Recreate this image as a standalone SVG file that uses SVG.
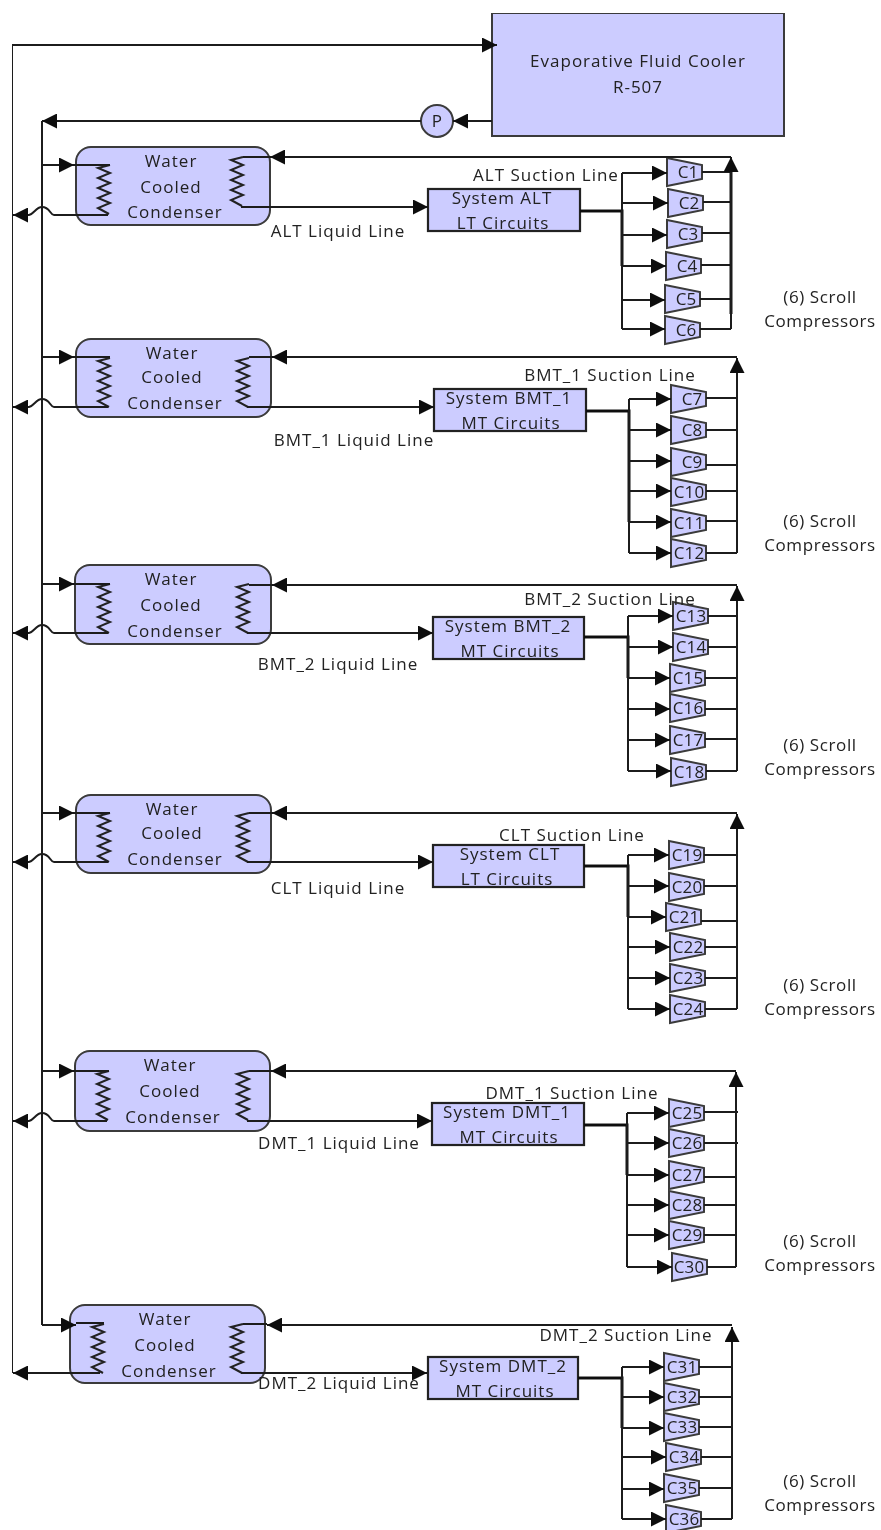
<svg xmlns="http://www.w3.org/2000/svg" width="881" height="1530" viewBox="0 0 881 1530">
<style>
text{font-family:"Open Sans","Noto Sans","DejaVu Sans",sans-serif;font-size:17px;fill:#222;text-anchor:middle;letter-spacing:1px}
text.s{letter-spacing:.6px}
text.c{letter-spacing:.1px}
.n{fill:#ccf;stroke:#3a3a3a;stroke-width:2}
.b{fill:#ccf;stroke:#222;stroke-width:2.2}
.coil{fill:none;stroke:#222;stroke-width:2}
.l{fill:none;stroke:#1c1c1c;stroke-width:2}
.t{fill:none;stroke:#111;stroke-width:3}
.a{marker-end:url(#ah)}
</style>
<defs>
<filter id="soft" x="0" y="0" width="1" height="1"><feGaussianBlur stdDeviation="0.55"/></filter>
<marker id="ah" markerUnits="userSpaceOnUse" viewBox="0 0 15 15" refX="15" refY="7.5" markerWidth="15" markerHeight="15" orient="auto"><path d="M0,0L15,7.5L0,15z" fill="#111"/></marker>
<path id="zig" d="M6,0L-6,3L6,8L-6,13L6,18L-6,23L6,28L-6,33L6,38L-6,43L5,49"/>
<polygon id="comp" points="0,-14 35,-7 35,7 0,14" class="n"/>
</defs>
<g filter="url(#soft)">
<g id="cooler"><rect x="492" y="13" width="292" height="123" class="n"/><text x="638" y="67">Evaporative Fluid Cooler</text><text x="638" y="93">R-507</text></g>
<g id="pump"><circle cx="437" cy="121" r="16" class="n"/><text x="437" y="127" class="c">P</text></g>

<g id="cond1"><rect x="76" y="147" width="194" height="78" rx="15" class="n"/><use href="#zig" x="104" y="165" class="coil"/><use href="#zig" x="237" y="157" class="coil"/><text x="171" y="167">Water</text><text x="171" y="193">Cooled</text><text x="175" y="218">Condenser</text></g>
<g id="cond2"><rect x="76" y="339" width="195" height="78" rx="15" class="n"/><use href="#zig" x="104" y="358" class="coil"/><use href="#zig" x="243" y="358" class="coil"/><text x="172" y="359">Water</text><text x="172" y="383">Cooled</text><text x="175" y="409">Condenser</text></g>
<g id="cond3"><rect x="75" y="565" width="196" height="79" rx="15" class="n"/><use href="#zig" x="104" y="584" class="coil"/><use href="#zig" x="243" y="584" class="coil"/><text x="171" y="585">Water</text><text x="171" y="611">Cooled</text><text x="175" y="637">Condenser</text></g>
<g id="cond4"><rect x="76" y="795" width="195" height="78" rx="15" class="n"/><use href="#zig" x="104" y="813" class="coil"/><use href="#zig" x="243" y="813" class="coil"/><text x="172" y="815">Water</text><text x="172" y="839">Cooled</text><text x="175" y="865">Condenser</text></g>
<g id="cond5"><rect x="75" y="1051" width="195" height="80" rx="15" class="n"/><use href="#zig" x="103" y="1071" class="coil"/><use href="#zig" x="243" y="1071" class="coil"/><text x="170" y="1071">Water</text><text x="170" y="1097">Cooled</text><text x="173" y="1123">Condenser</text></g>
<g id="cond6"><rect x="70" y="1305" width="195" height="78" rx="15" class="n"/><use href="#zig" x="98" y="1324" class="coil"/><use href="#zig" x="237" y="1324" class="coil"/><text x="165" y="1325">Water</text><text x="165" y="1351">Cooled</text><text x="169" y="1377">Condenser</text></g>

<g id="sys1"><rect x="428" y="189" width="152" height="42" class="b"/><text x="502" y="204">System ALT</text><text x="503" y="229">LT Circuits</text></g>
<g id="sys2"><rect x="434" y="389" width="152" height="42" class="b"/><text x="509" y="404">System BMT_1</text><text x="511" y="429">MT Circuits</text></g>
<g id="sys3"><rect x="433" y="617" width="151" height="42" class="b"/><text x="508" y="632">System BMT_2</text><text x="510" y="657">MT Circuits</text></g>
<g id="sys4"><rect x="433" y="845" width="151" height="42" class="b"/><text x="510" y="860">System CLT</text><text x="507" y="885">LT Circuits</text></g>
<g id="sys5"><rect x="432" y="1103" width="152" height="42" class="b"/><text x="507" y="1118">System DMT_1</text><text x="509" y="1143">MT Circuits</text></g>
<g id="sys6"><rect x="428" y="1357" width="150" height="42" class="b"/><text x="503" y="1372">System DMT_2</text><text x="505" y="1397">MT Circuits</text></g>

<g id="c1"><use href="#comp" x="667" y="172"/><text class="c" x="688" y="178">C1</text></g>
<g id="c2"><use href="#comp" x="668" y="203"/><text class="c" x="689" y="209">C2</text></g>
<g id="c3"><use href="#comp" x="667" y="234"/><text class="c" x="688" y="240">C3</text></g>
<g id="c4"><use href="#comp" x="666" y="266"/><text class="c" x="687" y="272">C4</text></g>
<g id="c5"><use href="#comp" x="665" y="299"/><text class="c" x="686" y="305">C5</text></g>
<g id="c6"><use href="#comp" x="665" y="330"/><text class="c" x="686" y="336">C6</text></g>
<g id="c7"><use href="#comp" x="671" y="399"/><text class="c" x="692" y="405">C7</text></g>
<g id="c8"><use href="#comp" x="671" y="430"/><text class="c" x="692" y="436">C8</text></g>
<g id="c9"><use href="#comp" x="671" y="462"/><text class="c" x="692" y="468">C9</text></g>
<g id="c10"><use href="#comp" x="671" y="492"/><text class="c" x="689" y="498">C10</text></g>
<g id="c11"><use href="#comp" x="671" y="523"/><text class="c" x="689" y="529">C11</text></g>
<g id="c12"><use href="#comp" x="671" y="553"/><text class="c" x="689" y="559">C12</text></g>
<g id="c13"><use href="#comp" x="673" y="616"/><text class="c" x="691" y="622">C13</text></g>
<g id="c14"><use href="#comp" x="673" y="647"/><text class="c" x="691" y="653">C14</text></g>
<g id="c15"><use href="#comp" x="670" y="678"/><text class="c" x="688" y="684">C15</text></g>
<g id="c16"><use href="#comp" x="670" y="708"/><text class="c" x="688" y="714">C16</text></g>
<g id="c17"><use href="#comp" x="670" y="740"/><text class="c" x="688" y="746">C17</text></g>
<g id="c18"><use href="#comp" x="671" y="772"/><text class="c" x="689" y="778">C18</text></g>
<g id="c19"><use href="#comp" x="669" y="855"/><text class="c" x="687" y="861">C19</text></g>
<g id="c20"><use href="#comp" x="669" y="887"/><text class="c" x="687" y="893">C20</text></g>
<g id="c21"><use href="#comp" x="666" y="917"/><text class="c" x="684" y="923">C21</text></g>
<g id="c22"><use href="#comp" x="670" y="947"/><text class="c" x="688" y="953">C22</text></g>
<g id="c23"><use href="#comp" x="670" y="978"/><text class="c" x="688" y="984">C23</text></g>
<g id="c24"><use href="#comp" x="670" y="1009"/><text class="c" x="688" y="1015">C24</text></g>
<g id="c25"><use href="#comp" x="669" y="1113"/><text class="c" x="687" y="1119">C25</text></g>
<g id="c26"><use href="#comp" x="669" y="1143"/><text class="c" x="687" y="1149">C26</text></g>
<g id="c27"><use href="#comp" x="669" y="1175"/><text class="c" x="687" y="1181">C27</text></g>
<g id="c28"><use href="#comp" x="669" y="1205"/><text class="c" x="687" y="1211">C28</text></g>
<g id="c29"><use href="#comp" x="669" y="1235"/><text class="c" x="687" y="1241">C29</text></g>
<g id="c30"><use href="#comp" x="672" y="1267"/><text class="c" x="689" y="1273">C30</text></g>
<g id="c31"><use href="#comp" x="664" y="1367"/><text class="c" x="682" y="1373">C31</text></g>
<g id="c32"><use href="#comp" x="664" y="1397"/><text class="c" x="682" y="1403">C32</text></g>
<g id="c33"><use href="#comp" x="664" y="1427"/><text class="c" x="682" y="1433">C33</text></g>
<g id="c34"><use href="#comp" x="666" y="1457"/><text class="c" x="684" y="1463">C34</text></g>
<g id="c35"><use href="#comp" x="664" y="1488"/><text class="c" x="682" y="1494">C35</text></g>
<g id="c36"><use href="#comp" x="666" y="1519"/><text class="c" x="684" y="1525">C36</text></g>

<g id="connectors">
<path class="l a" d="M12,1373V45H497"/>
<path class="l a" d="M492,121H453"/>
<path class="l a" d="M421,121H42"/>
<path class="l" d="M42,121V1325"/>

<path class="l a" d="M42,165H74"/><path class="l" d="M74,165H110"/>
<path class="l a" d="M108,215H54C50,215 50,207 42,207C36,207 34,214 29,215H13"/>
<path class="l a" d="M731,157H270"/><path class="l" d="M270,157H243"/>
<path class="l a" d="M241,207H428"/>
<path class="t" d="M580,211H622V266"/><path class="l" d="M622,329V173"/>
<path class="l a" d="M622,173H667"/><path class="l a" d="M622,203H668"/><path class="l a" d="M622,235H667"/><path class="l a" d="M622,266H666"/><path class="l a" d="M622,300H665"/><path class="l a" d="M622,329H665"/>
<path class="l" d="M702,172H731M703,202H731M702,233H731M701,265H731M700,299H731M700,329H731"/>
<path class="t" d="M731,314V172"/><path class="l a" d="M731,329V157"/>

<path class="l a" d="M42,357H74"/><path class="l" d="M74,357H110"/>
<path class="l a" d="M108,407H54C50,407 50,399 42,399C36,399 34,406 29,407H13"/>
<path class="l a" d="M737,357H272"/><path class="l" d="M272,357H249"/>
<path class="l a" d="M247,407H434"/>
<path class="t" d="M586,411H629V522"/><path class="l" d="M629,553V399"/>
<path class="l a" d="M629,399H671"/><path class="l a" d="M629,430H671"/><path class="l a" d="M629,461H671"/><path class="l a" d="M629,491H671"/><path class="l a" d="M629,522H671"/><path class="l a" d="M629,553H671"/>
<path class="l" d="M706,398H737M706,430H737M706,465H737M706,491H737M706,521H737M706,553H737"/>
<path class="l a" d="M737,553V358"/>

<path class="l a" d="M42,584H74"/><path class="l" d="M74,584H110"/>
<path class="l a" d="M108,633H54C50,633 50,625 42,625C36,625 34,632 29,633H13"/>
<path class="l a" d="M737,585H272"/><path class="l" d="M272,585H249"/>
<path class="l a" d="M247,633H433"/>
<path class="t" d="M584,637H628V678"/><path class="l" d="M628,771V616"/>
<path class="l a" d="M628,616H673"/><path class="l a" d="M628,647H673"/><path class="l a" d="M628,678H670"/><path class="l a" d="M628,709H670"/><path class="l a" d="M628,740H670"/><path class="l a" d="M628,771H671"/>
<path class="l" d="M708,616H737M708,647H737M705,678H737M705,709H737M705,739H737M706,771H737"/>
<path class="l a" d="M737,771V586"/>

<path class="l a" d="M42,813H74"/><path class="l" d="M74,813H110"/>
<path class="l a" d="M108,862H54C50,862 50,854 42,854C36,854 34,861 29,862H13"/>
<path class="l a" d="M737,813H272"/><path class="l" d="M272,813H249"/>
<path class="l a" d="M247,862H433"/>
<path class="t" d="M584,866H628V917"/><path class="l" d="M628,1009V855"/>
<path class="l a" d="M628,855H669"/><path class="l a" d="M628,886H669"/><path class="l a" d="M628,917H666"/><path class="l a" d="M628,947H670"/><path class="l a" d="M628,978H670"/><path class="l a" d="M628,1009H670"/>
<path class="l" d="M704,855H737M704,886H737M701,921H737M705,947H737M705,978H737M705,1009H737"/>
<path class="l a" d="M737,1009V814"/>

<path class="l a" d="M42,1071H74"/><path class="l" d="M74,1071H109"/>
<path class="l a" d="M107,1121H54C50,1121 50,1113 42,1113C36,1113 34,1120 29,1121H13"/>
<path class="l a" d="M736,1071H271"/><path class="l" d="M271,1071H249"/>
<path class="l a" d="M247,1121H432"/>
<path class="t" d="M584,1125H627V1175"/><path class="l" d="M627,1267V1113"/>
<path class="l a" d="M627,1113H669"/><path class="l a" d="M627,1143H669"/><path class="l a" d="M627,1175H669"/><path class="l a" d="M627,1205H669"/><path class="l a" d="M627,1235H669"/><path class="l a" d="M627,1267H672"/>
<path class="l" d="M704,1112H738M704,1143H738M704,1177H736M704,1205H736M704,1235H736M707,1267H736"/>
<path class="l a" d="M736,1267V1072"/>

<path class="l a" d="M42,1325H76"/><path class="l" d="M76,1323H104"/>
<path class="l a" d="M100,1373H13"/>
<path class="l a" d="M732,1325H267"/><path class="l" d="M267,1324H243"/>
<path class="l a" d="M241,1373H427"/>
<path class="t" d="M578,1378H622V1428"/><path class="l" d="M622,1519V1367"/>
<path class="l a" d="M622,1367H664"/><path class="l a" d="M622,1397H664"/><path class="l a" d="M622,1428H664"/><path class="l a" d="M622,1457H666"/><path class="l a" d="M622,1489H664"/><path class="l a" d="M622,1519H666"/>
<path class="l" d="M699,1367H732M699,1397H732M699,1427H732M701,1457H732M699,1488H732M701,1519H732"/>
<path class="l a" d="M732,1519V1327"/>
</g>

<g id="labels">
<text x="546" y="181">ALT Suction Line</text><text x="338" y="237">ALT Liquid Line</text>
<text x="610" y="381">BMT_1 Suction Line</text><text x="354" y="446">BMT_1 Liquid Line</text>
<text x="610" y="605">BMT_2 Suction Line</text><text x="338" y="670">BMT_2 Liquid Line</text>
<text x="572" y="841">CLT Suction Line</text><text x="338" y="894">CLT Liquid Line</text>
<text x="572" y="1099">DMT_1 Suction Line</text><text x="339" y="1149">DMT_1 Liquid Line</text>
<text x="626" y="1341">DMT_2 Suction Line</text><text x="339" y="1389">DMT_2 Liquid Line</text>
<text class="s" x="820" y="303">(6) Scroll</text><text class="s" x="820" y="327">Compressors</text>
<text class="s" x="820" y="527">(6) Scroll</text><text class="s" x="820" y="551">Compressors</text>
<text class="s" x="820" y="751">(6) Scroll</text><text class="s" x="820" y="775">Compressors</text>
<text class="s" x="820" y="991">(6) Scroll</text><text class="s" x="820" y="1015">Compressors</text>
<text class="s" x="820" y="1247">(6) Scroll</text><text class="s" x="820" y="1271">Compressors</text>
<text class="s" x="820" y="1487">(6) Scroll</text><text class="s" x="820" y="1511">Compressors</text>
</g>
</g>
</svg>
